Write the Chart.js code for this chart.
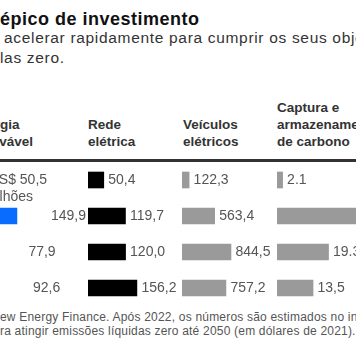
<!DOCTYPE html>
<html>
<head>
<meta charset="utf-8">
<script src="https://cdn.jsdelivr.net/npm/chart.js@4/dist/chart.umd.min.js"></script>
<style>
  html, body { margin:0; padding:0; background:#fff; }
  body { width:356px; height:364px; overflow:hidden; position:relative; font-family:"Liberation Sans", Arial, sans-serif; }
  .t { position:absolute; white-space:nowrap; }
  .title { left:0; top:8px; font-size:18px; line-height:22px; font-weight:bold; color:#111; letter-spacing:0.5px; }
  .sub { font-size:15.5px; line-height:20px; color:#333; letter-spacing:0.68px; }
  .hdr { font-size:13.5px; line-height:17px; font-weight:bold; color:#333; }
  .foot { font-size:12px; line-height:13.5px; color:#555; letter-spacing:0.2px; }
  .rule { position:absolute; left:0; top:159px; width:356px; height:3px; background:#333; }
  canvas { position:absolute; top:162px; }
</style>
</head>
<body>
<div class="t title">épico de investimento</div>
<div class="t sub" style="left:4px; top:27.5px;">acelerar rapidamente para cumprir os seus objetivos de</div>
<div class="t sub" style="left:0; top:47.5px;">las zero.</div>

<div class="t hdr" style="left:-30px; top:116px;">Energia<br>renovável</div>
<div class="t hdr" style="left:88px; top:116px;">Rede<br>elétrica</div>
<div class="t hdr" style="left:183px; top:116px;">Veículos<br>elétricos</div>
<div class="t hdr" style="left:277px; top:99px;">Captura e<br>armazenamento<br>de carbono</div>
<div class="rule"></div>

<canvas id="c0" width="118" height="144" style="left:-30px"></canvas>
<canvas id="c1" width="94" height="144" style="left:88px"></canvas>
<canvas id="c2" width="95" height="144" style="left:182px"></canvas>
<canvas id="c3" width="79" height="144" style="left:277px"></canvas>

<div class="t foot" style="left:0; top:311px;">ew Energy Finance. Após 2022, os números são estimados no investimento</div>
<div class="t foot" style="left:0; top:324.5px;">ra atingir emissões líquidas zero até 2050 (em dólares de 2021).</div>

<script>
// Rows (periods; row names are outside the visible crop)
const rows = ["r1", "r2", "r3", "r4"];

// Investment, US$ billions
const renewableValues = [50.5, 149.9, 77.9, 92.6];
const gridValues      = [50.4, 119.7, 120.0, 156.2];
const evValues        = [122.3, 563.4, 844.5, 757.2];
const ccsValues       = [2.1, 31.0, 19.3, 13.5];

// Value labels as printed
const renewableLabels = ["50,5", "149,9", "77,9", "92,6"];
const gridLabels      = ["50,4", "119,7", "120,0", "156,2"];
const evLabels        = ["122,3", "563,4", "844,5", "757,2"];
const ccsLabels       = ["2.1", "31,0", "19.3", "13,5"];
const firstPrefix = "US$ ";
const firstUnit = "bilhões";

const LABEL_FONT = "14px 'Liberation Sans', Arial, sans-serif";

function makeChart(id, values, labels, color, xMax, gap, first) {
  const labelPlugin = {
    id: 'vlabels',
    afterDatasetsDraw(chart) {
      const ctx = chart.ctx;
      const meta = chart.getDatasetMeta(0);
      ctx.save();
      ctx.font = LABEL_FONT;
      ctx.fillStyle = '#555';
      ctx.textBaseline = 'middle';
      meta.data.forEach((bar, i) => {
        const x = bar.x + gap;
        const y = bar.y + 0.5;
        ctx.textAlign = 'left';
        ctx.fillText(labels[i], x, y);
        if (first && i === 0) {
          const w = ctx.measureText(first.prefix).width;
          ctx.fillText(first.prefix, x - w, y);
          ctx.fillText(first.unit, x - w, y + 17);
        }
      });
      ctx.restore();
    }
  };
  return new Chart(document.getElementById(id), {
    type: 'bar',
    data: {
      labels: rows,
      datasets: [{
        data: values,
        backgroundColor: color,
        borderWidth: 0,
        barThickness: 16
      }]
    },
    options: {
      indexAxis: 'y',
      responsive: false,
      animation: false,
      events: [],
      layout: { padding: 0 },
      plugins: { legend: { display: false }, tooltip: { enabled: false } },
      scales: {
        x: { type: 'linear', min: 0, max: xMax, display: false },
        y: { type: 'category', display: false, offset: true }
      }
    },
    plugins: [labelPlugin]
  });
}

// px-per-unit per column: renewables/grid 0.313, EV 0.058, CCS 2.67
makeChart('c0', renewableValues, renewableLabels, '#0a6cff', 118 / 0.313, 34, { prefix: firstPrefix, unit: firstUnit });
makeChart('c1', gridValues, gridLabels, '#000000', 94 / 0.313, 4.5);
makeChart('c2', evValues, evLabels, '#9a9a9a', 95 / 0.058, 4.5);
makeChart('c3', ccsValues, ccsLabels, '#9a9a9a', 79 / 2.67, 4.5);
</script>
</body>
</html>
